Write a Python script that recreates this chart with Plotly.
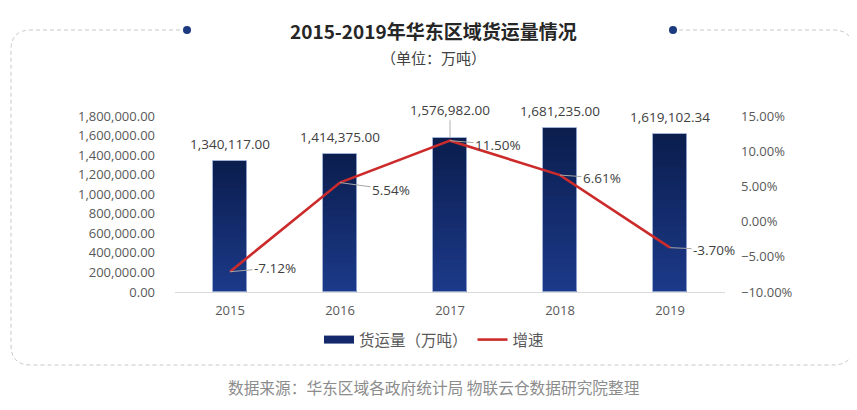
import plotly.graph_objects as go

# ---- data ----
years = ["2015", "2016", "2017", "2018", "2019"]
volume = [1340117.00, 1414375.00, 1576982.00, 1681235.00, 1619102.34]
growth = [-7.12, 5.54, 11.50, 6.61, -3.70]
volume_labels = ["1,340,117.00", "1,414,375.00", "1,576,982.00", "1,681,235.00", "1,619,102.34"]
growth_labels = ["-7.12%", "5.54%", "11.50%", "6.61%", "-3.70%"]

title = "2015-2019年华东区域货运量情况"
subtitle = "（单位：万吨）"
source = "数据来源：华东区域各政府统计局 物联云仓数据研究院整理"
name_bar = "货运量（万吨）"
name_line = "增速"

W, H = 857, 410
OFF = 8  # page body margin offset
L, R, T, B = 175, 725, 116, 292  # plot area in screen pixels
NUM_FONT = "Open Sans, Noto Sans CJK SC, sans-serif"
CJK_FONT = "Noto Sans CJK SC, sans-serif"


def px(x):
    return (x - L) / (R - L)


def py(y):
    return (B - y) / (B - T)


fig = go.Figure()

# gradient bars built from layered overlays
top_c = (11, 29, 77)
bot_c = (28, 58, 138)
N = 24
for k in range(N):
    f = 1 - k / N
    h = f - 0.5 / N
    c = tuple(int(round(bot_c[i] + (top_c[i] - bot_c[i]) * h)) for i in range(3))
    fig.add_trace(go.Bar(
        x=years, y=[v * f for v in volume], width=0.31,
        marker=dict(color="rgb(%d,%d,%d)" % c, line=dict(width=0)),
        showlegend=False, hoverinfo="skip", yaxis="y",
    ))
# outline
fig.add_trace(go.Bar(
    x=years, y=volume, width=0.31, name=name_bar,
    marker=dict(color="rgba(0,0,0,0)", line=dict(width=1, color="rgba(150,168,210,0.9)")),
    showlegend=False, yaxis="y",
))

fig.add_trace(go.Scatter(
    x=years, y=growth, mode="lines", name=name_line, yaxis="y2",
    line=dict(color="#cc2b2b", width=2.6), showlegend=False,
))

# legend proxies
fig.add_trace(go.Scatter(x=[years[0]], y=[None], mode="lines", name=name_bar,
                         line=dict(color="#13296b", width=8)))
fig.add_trace(go.Scatter(x=[years[0]], y=[None], mode="lines", name=name_line,
                         line=dict(color="#cc2b2b", width=2.6)))

annotations = []
# bar value labels
for i, (yr, v, lab) in enumerate(zip(years, volume, volume_labels)):
    if yr == "2017":
        annotations.append(dict(x=i, y=v, xref="x", yref="y", text=lab,
                                showarrow=True, arrowhead=0, arrowwidth=1,
                                arrowcolor="#b0b0b0", ax=0, ay=-28,
                                font=dict(family=NUM_FONT, size=13.5, color="#404040")))
    else:
        annotations.append(dict(x=i, y=v, xref="x", yref="y", text=lab,
                                showarrow=False, yanchor="bottom", yshift=6,
                                font=dict(family=NUM_FONT, size=13.5, color="#404040")))
# growth labels
offsets = [(45, -4), (51, 7), (48, 4), (42, 3), (44, 2)]
for i, (g, lab, (ax, ay)) in enumerate(zip(growth, growth_labels, offsets)):
    annotations.append(dict(x=i, y=g, xref="x", yref="y2", text=lab,
                            showarrow=True, arrowhead=0, arrowwidth=1,
                            arrowcolor="#a6a6a6", ax=ax, ay=ay,
                            font=dict(family=NUM_FONT, size=13.5, color="#404040")))
# title texts
annotations.append(dict(x=px(433), y=py(30), xref="paper", yref="paper", text="<b>%s</b>" % title,
                        xanchor="center", yanchor="middle", showarrow=False,
                        font=dict(family=CJK_FONT, size=19, color="#262626")))
annotations.append(dict(x=px(433), y=py(58), xref="paper", yref="paper", text=subtitle,
                        xanchor="center", yanchor="middle", showarrow=False,
                        font=dict(family=CJK_FONT, size=15, color="#404040")))
annotations.append(dict(x=px(434), y=py(387), xref="paper", yref="paper", text=source,
                        xanchor="center", yanchor="middle", showarrow=False,
                        font=dict(family=CJK_FONT, size=15.7, color="#8c8c8c")))

# decorative dashed rounded frame
x0, x1, y0, y1, r = 11, 853, 30, 365, 20


def P(x, y):
    return "%.5f,%.5f" % (px(x), py(y))


path_left = "M%s L%s Q%s %s L%s Q%s %s L%s Q%s %s L%s Q%s %s L%s" % (
    P(187, y0), P(x0 + r, y0), P(x0, y0), P(x0, y0 + r), P(x0, y1 - r), P(x0, y1), P(x0 + r, y1),
    P(x1 - r, y1), P(x1, y1), P(x1, y1 - r), P(x1, y0 + r), P(x1, y0), P(x1 - r, y0), P(673, y0))
shapes = [
    dict(type="path", xref="paper", yref="paper", path=path_left,
         line=dict(color="#c8c8c8", width=1, dash="4px,3px")),
]
for cx in (187, 673):
    shapes.append(dict(type="circle", xref="paper", yref="paper",
                       x0=px(cx - 4), x1=px(cx + 4), y0=py(30 + 4), y1=py(30 - 4),
                       fillcolor="#1c3a80", line=dict(width=0)))

fig.update_layout(
    width=W, height=H,
    margin=dict(l=L - OFF, r=W - (R - OFF), t=T - OFF, b=H - (B - OFF), pad=0, autoexpand=False),
    paper_bgcolor="white", plot_bgcolor="white",
    barmode="overlay", bargap=0,
    font=dict(family=NUM_FONT, color="#595959"),
    xaxis=dict(type="category", categoryorder="array", categoryarray=years,
               range=[-0.5, len(years) - 0.5], autorange=False,
               showline=True, linecolor="#d9d9d9", linewidth=1,
               showgrid=False, ticks="", tickfont=dict(size=13, color="#595959"),
               ticklabelstandoff=6, zeroline=False),
    yaxis=dict(range=[0, 1800000], dtick=200000, tickformat=",.2f", showgrid=False,
               zeroline=False, showline=False, ticks="", ticklabelstandoff=19,
               tickfont=dict(size=13, color="#595959")),
    yaxis2=dict(range=[-10, 15], dtick=5, tickformat=".2f", ticksuffix="%",
                overlaying="y", side="right", showgrid=False, zeroline=False,
                showline=False, ticks="", ticklabelstandoff=15,
                tickfont=dict(size=13, color="#595959")),
    legend=dict(orientation="h", x=px(434), xanchor="center", y=py(340), yanchor="middle",
                font=dict(family=CJK_FONT, size=15.5, color="#595959"),
                bgcolor="rgba(0,0,0,0)", itemwidth=30),
    annotations=annotations, shapes=shapes,
    hovermode=False,
)

fig.write_html("out.html")
